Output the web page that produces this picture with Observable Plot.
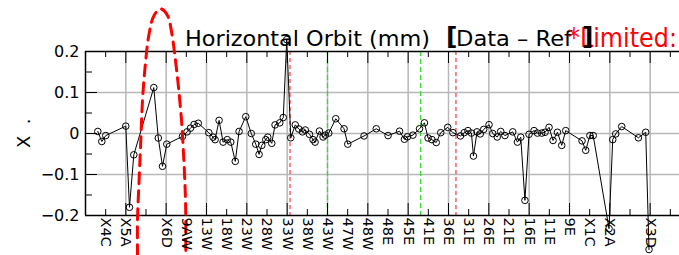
<!DOCTYPE html>
<html><head><meta charset="utf-8">
<script src="https://cdn.jsdelivr.net/npm/d3@7"></script>
<script src="https://cdn.jsdelivr.net/npm/@observablehq/plot@0.6"></script>
<style>html,body{margin:0;padding:0;background:#fff;overflow:hidden}</style>
</head><body><div id="chart"></div>
<script>
// Tick labels at tick positions 1..29 (blank = unlabeled tick)
const tickLabels = ["X4C","X5A","","X6D","9AW","13W","18W","23W","28W","33W","38W","43W","47W","48W",
  "48E","45E","41E","36E","31E","26E","21E","16E","11E","9E","X1C","X2A","","X3D",""];
const yTicks = [-0.2, -0.1, 0, 0.1, 0.2];
const yMinor = [-0.15, -0.05, 0.05, 0.15];

// BPM position (in tick units) and horizontal orbit difference (mm)
const bpmPos = [0.610,0.808,1.006,1.998,2.181,2.395,3.386,3.609,3.818,4.031,4.809,5.037,5.206,5.384,5.592,
  6.113,6.326,6.425,6.624,6.822,7.030,7.204,7.427,7.615,7.947,8.220,8.443,8.607,8.741,8.939,9.038,9.236,
  9.400,9.633,9.807,9.980,10.179,10.402,10.575,10.759,10.897,11.106,11.284,11.383,11.601,11.780,11.889,
  12.063,12.410,12.821,13.005,13.813,14.418,15.003,15.573,15.816,15.964,16.237,16.564,16.807,16.986,
  17.179,17.392,17.615,17.962,18.220,18.592,18.780,18.964,19.137,19.237,19.415,19.574,19.747,20.010,
  20.193,20.416,20.590,20.798,21.185,21.418,21.582,21.790,21.993,22.241,22.410,22.623,22.786,22.985,
  23.183,23.402,23.615,23.813,24.621,24.804,25.012,25.176,25.960,26.143,26.292,26.589,27.417,27.779,27.943];
const orbitX = [0.005,-0.0195,-0.005,0.018,-0.180,-0.052,0.112,-0.011,-0.080,-0.026,-0.007,0.004,0.013,0.022,0.025,
  0.002,-0.009,-0.015,0.032,-0.021,-0.015,-0.021,-0.068,0.005,0.041,0.000,-0.026,-0.051,-0.029,-0.015,-0.009,-0.024,
  0.021,0.026,0.039,0.229,-0.0105,0.021,0.011,0.004,0.0085,-0.002,-0.015,-0.021,0.006,-0.0085,-0.004,
  0.001,0.036,0.0115,-0.026,-0.006,0.0115,-0.005,0.0056,-0.014,-0.008,-0.004,0.0115,0.026,-0.011,
  -0.015,-0.022,0.002,0.015,0.002,-0.006,0.002,0.007,0.001,-0.055,0.004,-0.001,0.010,0.0215,
  0.000,-0.0085,0.005,-0.005,0.004,-0.021,-0.009,-0.163,-0.002,0.007,0.001,0.001,0.003,0.015,
  -0.017,0.003,-0.029,0.007,-0.018,-0.041,-0.005,-0.005,-0.232,-0.015,-0.001,0.017,-0.0105,0.003,-0.283];

// Red dashed limit curve
const limitPos = [2.578,2.578,2.657,2.742,2.826,2.955,3.153,3.401,3.733,4.065,4.279,4.442,4.611,4.760,4.859,4.938,4.973,4.973];
const limitVal = [-0.298,-0.212,-0.115,-0.017,0.080,0.162,0.243,0.288,0.304,0.288,0.244,0.186,0.113,0.032,-0.049,-0.131,-0.204,-0.298];

// Vertical marker lines
const redMarkers = [10.14, 18.37];
const greenMarkers = [12.0, 16.62];

const orbit = bpmPos.map((p, i) => ({pos: p, x: orbitX[i]}));
const limit = limitPos.map((p, i) => ({pos: p, x: limitVal[i]}));
const tickPositions = tickLabels.map((_, i) => i + 1);
const allTicks = d3.range(0, 31);
const majorTicks = allTicks.filter(t => t % 2 === 0);
const minorTicks = allTicks.filter(t => t % 2 === 1);

const W = 679, H = 255, mT = 51, mB = 40, mL = 85, mR = -11;
const ph = H - mT - mB, pw = W - mL - mR;
const grid = {stroke: "#b8b8b8", strokeOpacity: 1, strokeWidth: 1.5};
const fmt = d => d === 0 ? "0" : (d < 0 ? "\u2212" : "") + Math.abs(d);

const plot = Plot.plot({
  width: W, height: H,
  marginTop: mT, marginBottom: mB, marginLeft: mL, marginRight: mR,
  style: {fontFamily: "DejaVu Sans", background: "white", color: "black"},
  x: {domain: [0, 30]},
  y: {domain: [-0.2, 0.2]},
  marks: [
    Plot.gridX(majorTicks.filter(t => t > 0 && t < 30), grid),
    Plot.gridY([-0.1, 0, 0.1], grid),
    Plot.ruleX(redMarkers, {stroke: "#ff4444", strokeWidth: 1.3, strokeDasharray: "4,3"}),
    Plot.ruleX(greenMarkers, {stroke: "#33dd33", strokeWidth: 1.3, strokeDasharray: "5,3"}),
    Plot.ruleX([0], {stroke: "black", strokeWidth: 1.5}),
    Plot.ruleY([-0.2, 0.2], {stroke: "black", strokeWidth: 1.6}),
    Plot.ruleX(minorTicks, {stroke: "black", insetBottom: ph - 6}),
    Plot.ruleX(majorTicks, {stroke: "black", insetBottom: ph - 12}),
    Plot.ruleX(minorTicks, {stroke: "black", insetTop: ph - 6}),
    Plot.ruleX(majorTicks, {stroke: "black", insetTop: ph - 12}),
    Plot.ruleY(yTicks, {stroke: "black", insetRight: pw - 12}),
    Plot.ruleY(yMinor, {stroke: "black", insetRight: pw - 7}),
    Plot.line(orbit, {x: "pos", y: "x", stroke: "black", strokeWidth: 1}),
    Plot.dot(orbit, {x: "pos", y: "x", r: 3.3, stroke: "black", fill: "none", strokeWidth: 1}),
    Plot.line(limit, {x: "pos", y: "x", stroke: "#ff0000", strokeWidth: 3, strokeDasharray: "11,7", curve: "catmull-rom"}),
    Plot.axisX({ticks: tickPositions, tickFormat: t => tickLabels[t - 1], tickSize: 0, tickPadding: 2,
      tickRotate: 90, fontSize: 14.5, label: null}),
    Plot.axisY({ticks: yTicks, tickFormat: fmt, tickSize: 0, tickPadding: 6, fontSize: 16, label: null})
  ]
});

const svg = d3.select(plot);
const t = svg.append("g").attr("font-family", "DejaVu Sans").attr("text-anchor", "start");
t.append("text").attr("x", 185).attr("y", 46).attr("font-size", 21)
  .attr("textLength", 245).attr("lengthAdjust", "spacingAndGlyphs").attr("fill", "black")
  .text("Horizontal Orbit (mm)");
t.append("text").attr("x", 446).attr("y", 45).attr("font-size", 25).attr("font-weight", "bold")
  .attr("fill", "black").text("[");
t.append("text").attr("x", 456).attr("y", 46).attr("font-size", 21)
  .attr("textLength", 116).attr("lengthAdjust", "spacingAndGlyphs").attr("fill", "black")
  .text("Data \u2013 Ref");
t.append("text").attr("x", 568).attr("y", 46.5).attr("font-size", 26).attr("fill", "#ff0000")
  .attr("textLength", 109).attr("lengthAdjust", "spacingAndGlyphs")
  .text("*Limited:");
t.append("text").attr("x", 582).attr("y", 45).attr("font-size", 25).attr("font-weight", "bold")
  .attr("fill", "black").text("]");
t.append("text").attr("transform", "translate(30,148) rotate(-90)").attr("font-size", 18)
  .attr("fill", "black").text("X  .");

document.getElementById("chart").append(plot);
</script>
</body></html>
